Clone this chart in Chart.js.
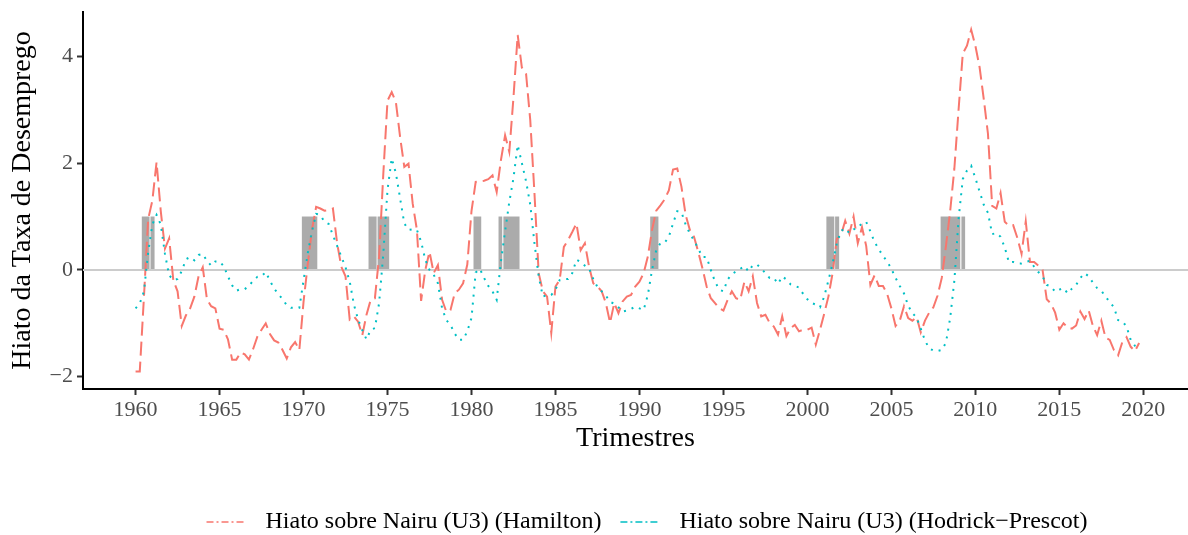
<!DOCTYPE html>
<html lang="pt">
<head>
  <meta charset="UTF-8">
  <title>Hiato da Taxa de Desemprego</title>
  <script src="https://cdn.jsdelivr.net/npm/chart.js"></script>
  <style>
    body { margin: 0; background: #fff; }
    #wrap { width: 1188px; height: 535px; }
  </style>
</head>
<body>
  <div id="wrap"><canvas id="myChart" width="1188" height="535"></canvas></div>

  <script>
    // quarterly data, 1960Q1 .. 2019Q4
    const startYear = 1960;

    const hamilton = [
      -1.90, -1.90, -0.50, 0.95, 1.30, 2.02, 1.10, 0.40, 0.59, -0.20,
      -0.40, -1.05, -0.85, -0.72, -0.50, -0.12, 0.05, -0.55, -0.68, -0.72,
      -1.10, -1.12, -1.30, -1.68, -1.68, -1.55, -1.58, -1.68, -1.48, -1.25,
      -1.12, -1.00, -1.20, -1.32, -1.36, -1.50, -1.66, -1.45, -1.35, -1.50,
      -0.60, 0.10, 0.75, 1.18, 1.15, 1.11, 1.12, 1.15, 0.50, 0.06,
      -0.12, -0.93, -0.87, -0.97, -1.22, -0.84, -0.56, -0.53, 0.25, 1.80,
      3.17, 3.33, 3.14, 2.49, 1.93, 1.99, 1.24, 0.75, -0.58, 0.00,
      0.34, -0.06, 0.09, -0.56, -0.78, -0.75, -0.44, -0.37, -0.25, 0.10,
      1.10, 1.65, 1.66, 1.67, 1.70, 1.77, 1.46, 2.05, 2.52, 2.21,
      3.23, 4.40, 3.79, 3.67, 2.80, 1.43, -0.06, -0.40, -0.50, -1.18,
      -0.31, -0.19, 0.43, 0.56, 0.71, 0.87, 0.37, 0.50, 0.06, -0.25,
      -0.31, -0.40, -0.62, -0.99, -0.62, -0.81, -0.59, -0.50, -0.47, -0.31,
      -0.22, -0.06, 0.25, 0.75, 1.11, 1.21, 1.32, 1.49, 1.88, 1.90,
      1.56, 1.03, 0.75, 0.62, 0.34, 0.03, -0.31, -0.53, -0.62, -0.72,
      -0.76, -0.56, -0.40, -0.53, -0.56, -0.22, -0.40, -0.12, -0.62, -0.87,
      -0.84, -0.99, -1.06, -1.21, -0.87, -1.24, -1.09, -1.03, -1.15, -1.12,
      -1.12, -1.08, -1.40, -1.12, -0.82, -0.50, -0.06, 0.58, 0.65, 0.92,
      0.68, 1.00, 0.50, 0.80, 0.45, -0.28, -0.10, -0.30, -0.30, -0.45,
      -0.72, -1.05, -0.95, -0.68, -0.90, -0.95, -0.88, -1.17, -0.95, -0.80,
      -0.70, -0.48, -0.15, 0.45, 1.10, 1.90, 3.00, 4.05, 4.20, 4.50,
      4.20, 3.80, 3.20, 2.55, 1.20, 1.15, 1.44, 0.90, 0.83, 0.84,
      0.60, 0.30, 0.91, 0.15, 0.15, 0.08, 0.00, -0.55, -0.63, -0.80,
      -1.12, -1.00, -1.08, -1.10, -1.04, -0.78, -0.92, -0.76, -1.05, -1.22,
      -0.95, -1.27, -1.31, -1.50, -1.60, -1.35, -1.26, -1.44, -1.52, -1.37
    ];

    const hp = [
      -0.72, -0.63, -0.40, 0.33, 0.85, 1.03, 0.85, 0.30, -0.10, -0.19,
      -0.17, -0.02, 0.20, 0.24, 0.18, 0.28, 0.30, 0.17, 0.08, 0.16,
      0.16, 0.07, -0.12, -0.29, -0.39, -0.36, -0.36, -0.30, -0.20, -0.13,
      -0.12, -0.04, -0.20, -0.35, -0.45, -0.55, -0.66, -0.71, -0.71, -0.71,
      -0.20, 0.31, 0.72, 1.05, 1.03, 0.90, 0.86, 0.65, 0.45, 0.25,
      0.05, -0.22, -0.65, -0.93, -1.13, -1.30, -1.12, -1.09, -0.62, 0.30,
      1.50, 2.09, 1.81, 1.34, 0.87, 0.75, 0.76, 0.75, 0.53, 0.19,
      0.00, -0.09, -0.25, -0.72, -0.94, -1.03, -1.19, -1.31, -1.31, -1.15,
      -0.90, -0.05, 0.02, -0.15, -0.30, -0.40, -0.56, 0.15, 0.72, 1.27,
      1.72, 2.34, 2.00, 1.66, 1.22, 0.50, -0.12, -0.50, -0.47, -0.47,
      -0.37, -0.19, -0.17, -0.17, -0.06, 0.19, 0.15, 0.08, 0.03, -0.17,
      -0.32, -0.40, -0.48, -0.60, -0.63, -0.70, -0.78, -0.76, -0.73, -0.69,
      -0.72, -0.75, -0.47, 0.00, 0.37, 0.50, 0.51, 0.62, 0.87, 1.10,
      1.08, 0.85, 0.68, 0.55, 0.40, 0.24, 0.24, 0.00, -0.22, -0.37,
      -0.40, -0.18, -0.08, -0.03, 0.02, 0.07, -0.03, 0.09, 0.10, 0.03,
      -0.06, -0.15, -0.15, -0.26, -0.12, -0.18, -0.27, -0.30, -0.33, -0.45,
      -0.55, -0.62, -0.65, -0.70, -0.50, -0.20, 0.12, 0.50, 0.73, 0.78,
      0.69, 0.76, 0.78, 0.88, 0.90, 0.72, 0.52, 0.39, 0.26, 0.16,
      0.02, -0.15, -0.30, -0.44, -0.67, -0.81, -0.89, -1.10, -1.32, -1.47,
      -1.51, -1.52, -1.50, -1.36, -0.90, -0.20, 0.95, 1.70, 1.86, 1.95,
      1.72, 1.47, 1.22, 1.07, 0.67, 0.69, 0.62, 0.42, 0.14, 0.15,
      0.12, 0.12, 0.15, 0.17, 0.06, -0.04, -0.12, -0.28, -0.31, -0.41,
      -0.37, -0.34, -0.44, -0.35, -0.28, -0.15, -0.06, -0.12, -0.24, -0.34,
      -0.39, -0.50, -0.60, -0.70, -0.94, -0.96, -1.06, -1.31, -1.42, -1.52
    ];

    // recession shading (years, as drawn)
    const recStart = [1960.37, 1960.89, 1969.90, 1973.87, 1974.41, 1980.12, 1981.61, 1981.90, 1990.64, 2001.13, 2001.65, 2007.93, 2009.17];
    const recEnd   = [1960.83, 1961.13, 1970.82, 1974.35, 1975.10, 1980.58, 1981.83, 1982.86, 1991.13, 2001.60, 2001.89, 2009.10, 2009.39];
    const recHeight = 1;

    const xTicks = [1960, 1965, 1970, 1975, 1980, 1985, 1990, 1995, 2000, 2005, 2010, 2015, 2020];
    const yTicks = [-2, 0, 2, 4];

    const labelHamilton = 'Hiato sobre Nairu (U3) (Hamilton)';
    const labelHP = 'Hiato sobre Nairu (U3) (Hodrick\u2212Prescot)';
    const colHamilton = '#F8766D';
    const colHP = '#00BFC4';
    const serif = "'Liberation Serif', 'DejaVu Serif', serif";

    function toPoints(arr) {
      return arr.map((v, i) => ({ x: startYear + i / 4, y: v }));
    }

    // gray recession bars + zero line, under the series
    const backdrop = {
      id: 'backdrop',
      beforeDatasetsDraw(chart) {
        const { ctx, chartArea, scales: { x, y } } = chart;
        ctx.save();
        ctx.beginPath();
        ctx.rect(chartArea.left, chartArea.top, chartArea.right - chartArea.left, chartArea.bottom - chartArea.top);
        ctx.clip();
        ctx.fillStyle = '#ABABAB';
        const y0 = y.getPixelForValue(0);
        const y1 = y.getPixelForValue(recHeight);
        for (let i = 0; i < recStart.length; i++) {
          const xa = x.getPixelForValue(recStart[i]);
          const xb = x.getPixelForValue(recEnd[i]);
          ctx.fillRect(xa, y1, xb - xa, y0 - y1);
        }
        ctx.strokeStyle = '#CCCCCC';
        ctx.lineWidth = 2;
        ctx.beginPath();
        ctx.moveTo(chartArea.left, y0);
        ctx.lineTo(chartArea.right, y0);
        ctx.stroke();
        ctx.restore();
      }
    };

    // ggplot-like legend under the x axis title
    const bottomLegend = {
      id: 'bottomLegend',
      afterDraw(chart) {
        const ctx = chart.ctx;
        const items = [
          { text: labelHamilton, color: colHamilton },
          { text: labelHP, color: colHP }
        ];
        const keyW = 38, keyGap = 21, itemGap = 19, cy = 522, cx = 647;
        ctx.save();
        ctx.font = '24px ' + serif;
        const widths = items.map(it => ctx.measureText(it.text).width);
        let total = 0;
        widths.forEach((w, i) => { total += keyW + keyGap + w + (i ? itemGap : 0); });
        let xPos = cx - total / 2;
        items.forEach((it, i) => {
          ctx.strokeStyle = it.color;
          ctx.lineWidth = 1.5;
          ctx.setLineDash([7, 3, 2, 3]);
          ctx.beginPath();
          ctx.moveTo(xPos, cy);
          ctx.lineTo(xPos + keyW, cy);
          ctx.stroke();
          ctx.setLineDash([]);
          ctx.fillStyle = '#000';
          ctx.textBaseline = 'middle';
          ctx.textAlign = 'left';
          ctx.fillText(it.text, xPos + keyW + keyGap, cy);
          xPos += keyW + keyGap + widths[i] + itemGap;
        });
        ctx.restore();
      }
    };

    const ctx = document.getElementById('myChart').getContext('2d');
    const myChart = new Chart(ctx, {
      type: 'line',
      data: {
        datasets: [
          {
            label: labelHP,
            data: toPoints(hp),
            borderColor: colHP,
            borderWidth: 2,
            borderDash: [2, 6],
            pointRadius: 0,
            fill: false,
            tension: 0
          },
          {
            label: labelHamilton,
            data: toPoints(hamilton),
            borderColor: colHamilton,
            borderWidth: 2,
            borderDash: [14, 6],
            pointRadius: 0,
            fill: false,
            tension: 0
          }
        ]
      },
      options: {
        responsive: false,
        animation: false,
        layout: { padding: { top: 12, right: 0, bottom: 76, left: 0 } },
        plugins: {
          legend: { display: false },
          tooltip: { enabled: false }
        },
        scales: {
          x: {
            type: 'linear',
            min: 1956.87,
            max: 2022.66,
            afterBuildTicks: s => { s.ticks = xTicks.map(v => ({ value: v })); },
            afterFit: s => { s.height = 70; s.paddingLeft = 0; s.paddingRight = 0; },
            grid: { drawOnChartArea: false, drawTicks: true, tickLength: 6, tickColor: '#333333', tickWidth: 2 },
            border: { display: true, color: '#000000', width: 2 },
            ticks: {
              color: '#4D4D4D',
              font: { family: serif, size: 22 },
              padding: 2,
              maxRotation: 0,
              autoSkip: false,
              callback: v => String(v)
            },
            title: {
              display: true,
              text: 'Trimestres',
              color: '#000000',
              font: { family: serif, size: 28 },
              padding: { top: 0, bottom: 4 }
            }
          },
          y: {
            min: -2.23,
            max: 4.83,
            afterBuildTicks: s => { s.ticks = yTicks.map(v => ({ value: v })); },
            afterFit: s => { s.width = 83; s.paddingTop = 0; s.paddingBottom = 0; },
            grid: { drawOnChartArea: false, drawTicks: true, tickLength: 6, tickColor: '#333333', tickWidth: 2 },
            border: { display: true, color: '#000000', width: 2 },
            ticks: {
              color: '#4D4D4D',
              font: { family: serif, size: 22 },
              padding: 4,
              callback: v => (v < 0 ? '\u2212' + Math.abs(v) : String(v))
            },
            title: {
              display: true,
              text: 'Hiato da Taxa de Desemprego',
              color: '#000000',
              font: { family: serif, size: 28 },
              padding: { top: 6, bottom: 0 }
            }
          }
        }
      },
      plugins: [backdrop, bottomLegend]
    });
  </script>
</body>
</html>
